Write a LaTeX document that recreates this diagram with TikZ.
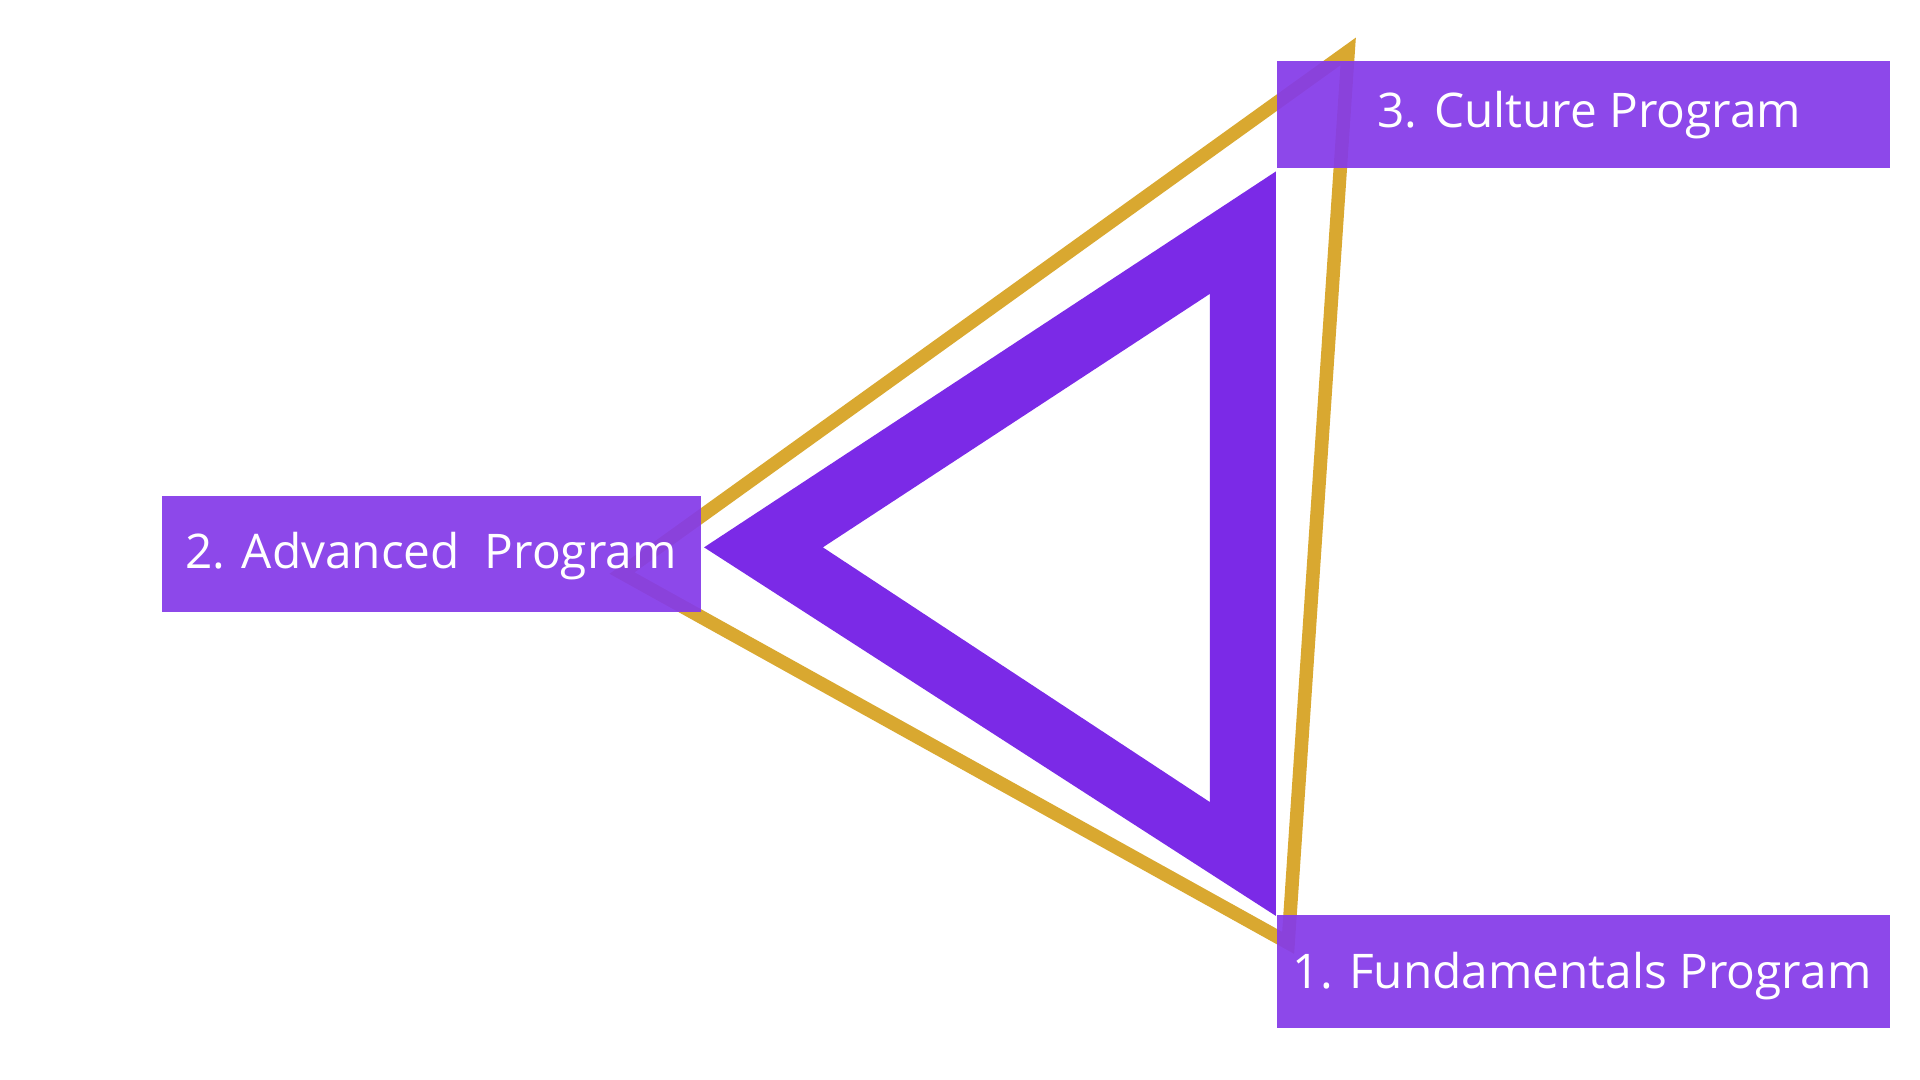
\documentclass[tikz,border=0pt]{standalone}
\usepackage{fontspec}
\setmainfont{Open Sans}
\begin{document}
\begin{tikzpicture}[x=1pt,y=-1pt,
  lbl/.style={fill=boxc,fill opacity=0.93,text opacity=1,text=white,inner sep=0pt,font=\fontsize{39}{44}\selectfont,anchor=north west}]
\definecolor{gold}{HTML}{D9A830}
\definecolor{tri}{HTML}{7B2AE7}
\definecolor{boxc}{HTML}{853BE9}
\useasboundingbox (0,0) rectangle (1568,882);
\fill[white] (0,0) rectangle (1568,882);
% gold triangle
\coordinate (gt) at (1101,42);
\coordinate (gl) at (508,468);
\coordinate (gb) at (1052,770);
\draw[gold,line width=11pt,line join=miter] (gt) -- (gl) -- (gb) -- cycle;
% purple triangle with hole
\fill[tri,even odd rule] (1042,140) -- (575,447) -- (1042,748) -- cycle
  (988,240) -- (672,447) -- (988,655) -- cycle;
\node[lbl,minimum width=500pt,minimum height=87pt] (c) at (1043,50) {};
\node[text=white,font=\fontsize{39}{44}\selectfont] (ct) at (1298,94) {3. Culture Program};
\node[lbl,minimum width=440pt,minimum height=95pt] (a) at (132,405) {};
\node[text=white,font=\fontsize{39}{44}\selectfont] (at) at (352,454) {2. Advanced\ \ Program};
\node[lbl,minimum width=500pt,minimum height=92pt] (f) at (1043,747) {};
\node[text=white,font=\fontsize{39}{44}\selectfont] (ft) at (1292,797) {1. Fundamentals Program};
\end{tikzpicture}
\end{document}
